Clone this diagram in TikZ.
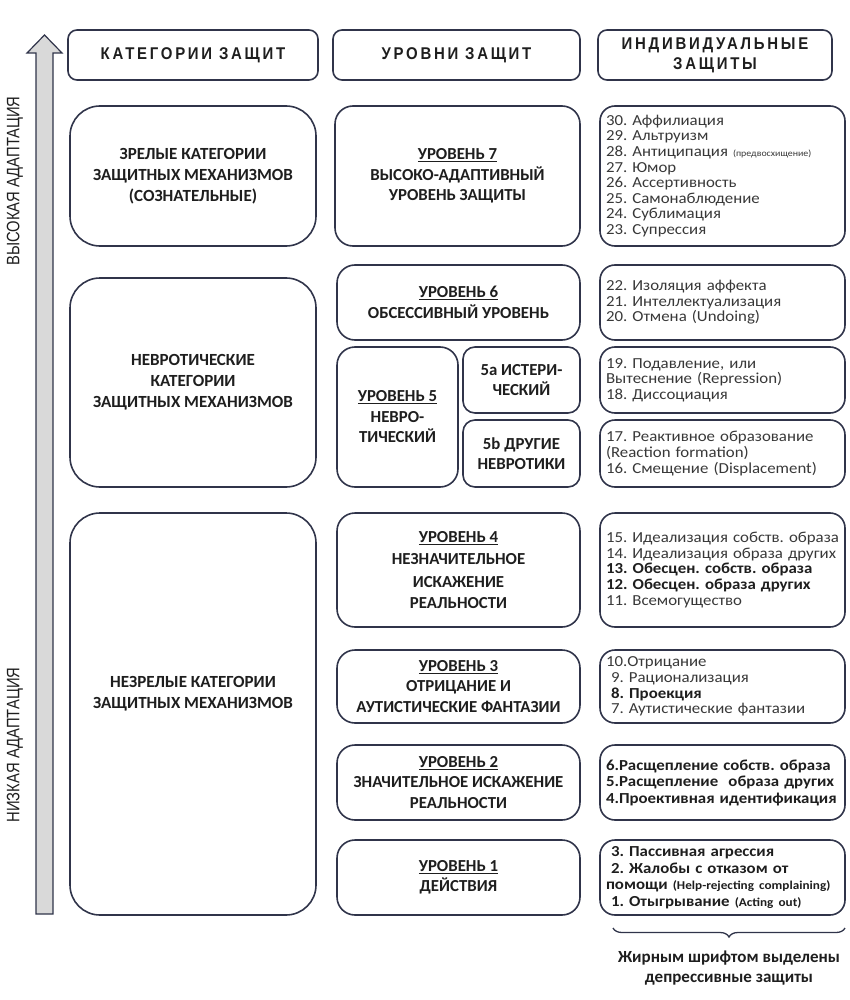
\documentclass[tikz,border=0pt]{standalone}
\usepackage{fontspec}
\setmainfont{Carlito}
\newfontfamily\listfamily[FakeStretch=1.1]{Carlito}
\newfontfamily\narrowfont[FakeStretch=0.82]{Liberation Sans}
\newfontfamily\headfont[FakeStretch=0.88,LetterSpace=16]{Liberation Sans}
\usepackage{tikz}
\usetikzlibrary{decorations.pathreplacing}
\definecolor{edge}{HTML}{30344A}
\definecolor{shaft}{HTML}{D9D9D9}
\definecolor{ink}{HTML}{1E1E1E}
\definecolor{listgray}{HTML}{383838}
\newcommand\catfont{\fontsize{17}{21}\selectfont\bfseries}
\newcommand\lvlfont{\fontsize{16.8}{20.5}\selectfont\bfseries}
\newcommand\listfont{\listfamily\fontsize{15.3}{15.6}\selectfont}
\newcommand\boldlist{\listfamily\fontsize{15.3}{16.5}\selectfont\bfseries}
\newcommand\smallpar[1]{{\fontsize{12}{13}\selectfont#1}}
\newcommand\ind{\hspace*{5pt}}
\frenchspacing

\begin{document}
\begin{tikzpicture}[x=1pt, y=-1pt, text=ink,
  hdr/.style={draw=edge, line width=1.6pt, rounded corners=9pt, minimum height=50pt,
    align=center, font=\headfont\bfseries\fontsize{17}{20}\selectfont},
  catbox/.style={draw=edge, line width=1.6pt, rounded corners=30pt, minimum width=246pt,
    align=center, font=\catfont},
  lvlbox/.style={draw=edge, line width=1.6pt, rounded corners=18pt, minimum width=243pt,
    align=center, font=\lvlfont},
  listbox/.style={draw=edge, line width=1.6pt, rounded corners=15pt, inner xsep=6pt,
    text width=233pt, align=left, font=\listfont, text=listgray}]
  \useasboundingbox (0,0) rectangle (850,1000);

  % adaptation arrow
  \draw[edge, fill=shaft, line width=1.2pt] (36,914) -- (36,53) -- (27,53) -- (44.5,35)
    -- (62,53) -- (53,53) -- (53,914) -- cycle;
  \node[rotate=90, font=\narrowfont\fontsize{18}{20}\selectfont] (high) at (15,181) {ВЫСОКАЯ АДАПТАЦИЯ};
  \node[rotate=90, font=\narrowfont\fontsize{18}{20}\selectfont] (low) at (15,745) {НИЗКАЯ АДАПТАЦИЯ};

  % headers
  \node[hdr, minimum width=250pt] (hcat) at (193,55) {КАТЕГОРИИ ЗАЩИТ};
  \node[hdr, minimum width=247pt] (hlvl) at (456.5,55) {УРОВНИ ЗАЩИТ};
  \node[hdr, minimum width=234pt] (hind) at (715,55) {ИНДИВИДУАЛЬНЫЕ\\ЗАЩИТЫ};

  % categories
  \node[catbox, minimum height=140pt] (mature) at (193,176)
    {ЗРЕЛЫЕ КАТЕГОРИИ\\ЗАЩИТНЫХ МЕХАНИЗМОВ\\(СОЗНАТЕЛЬНЫЕ)};
  \node[catbox, minimum height=209pt] (neurotic) at (193,382.5)
    {НЕВРОТИЧЕСКИЕ\\КАТЕГОРИИ\\ЗАЩИТНЫХ МЕХАНИЗМОВ};
  \node[catbox, minimum height=402pt] (immature) at (193,714)
    {НЕЗРЕЛЫЕ КАТЕГОРИИ\\ЗАЩИТНЫХ МЕХАНИЗМОВ\\[22pt]};

  % levels
  \node[lvlbox, minimum width=245pt, minimum height=140pt] (lvl7) at (457.5,176)
    {\underline{УРОВЕНЬ 7}\\ВЫСОКО-АДАПТИВНЫЙ\\УРОВЕНЬ ЗАЩИТЫ};
  \node[lvlbox, minimum height=75pt] (lvl6) at (458.5,302.5)
    {\underline{УРОВЕНЬ 6}\\ОБСЕССИВНЫЙ УРОВЕНЬ};
  \node[lvlbox, minimum width=121pt, minimum height=140pt] (lvl5) at (397.5,417)
    {\underline{УРОВЕНЬ 5}\\НЕВРО-\\ТИЧЕСКИЙ};
  \node[lvlbox, rounded corners=12pt, minimum width=117pt, minimum height=66pt] (lvl5a) at (521.5,380)
    {5a ИСТЕРИ-\\ЧЕСКИЙ};
  \node[lvlbox, rounded corners=12pt, minimum width=117pt, minimum height=67pt] (lvl5b) at (521.5,453.5)
    {5b ДРУГИЕ\\НЕВРОТИКИ};
  \node[lvlbox, minimum height=114pt] (lvl4) at (458.5,570)
    {\underline{УРОВЕНЬ 4}\\[2pt]НЕЗНАЧИТЕЛЬНОЕ\\[2pt]ИСКАЖЕНИЕ\\[1pt]РЕАЛЬНОСТИ};
  \node[lvlbox, minimum height=73pt] (lvl3) at (458.5,686.5)
    {\underline{УРОВЕНЬ 3}\\ОТРИЦАНИЕ И\\АУТИСТИЧЕСКИЕ ФАНТАЗИИ};
  \node[lvlbox, minimum height=75pt] (lvl2) at (458.5,782.5)
    {\underline{УРОВЕНЬ 2}\\ЗНАЧИТЕЛЬНОЕ ИСКАЖЕНИЕ\\РЕАЛЬНОСТИ};
  \node[lvlbox, minimum height=75pt] (lvl1) at (458.5,877.5)
    {\underline{УРОВЕНЬ 1}\\ДЕЙСТВИЯ};

  % individual defences
  \node[listbox, minimum height=140pt] (def30) at (722.5,176)
    {30. Аффилиация\\29. Альтруизм\\28. Антиципация {\fontsize{9}{10}\selectfont(предвосхищение)}\\27. Юмор\\
     26. Ассертивность\\25. Самонаблюдение\\24. Сублимация\\23. Супрессия};
  \node[listbox, minimum height=75pt] (def22) at (722.5,302.5)
    {22. Изоляция аффекта\\21. Интеллектуализация\\20. Отмена (Undoing)};
  \node[listbox, minimum height=66pt] (def19) at (722.5,380)
    {19. Подавление, или\\Вытеснение (Repression)\\18. Диссоциация};
  \node[listbox, minimum height=67pt] (def17) at (722.5,453.5)
    {17. Реактивное образование\\(Reaction formation)\\16. Смещение (Displacement)};
  \node[listbox, minimum height=114pt] (def15) at (722.5,570)
    {15. Идеализация собств. образа\\14. Идеализация образа других\\
     {\color{ink}\bfseries 13. Обесцен. собств. образа}\\{\color{ink}\bfseries 12. Обесцен. образа других}\\
     11. Всемогущество\\[6pt]};
  \node[listbox, minimum height=73pt] (def10) at (722.5,686.5)
    {10.Отрицание\\\ind 9. Рационализация\\\ind{\color{ink}\bfseries 8. Проекция}\\\ind 7. Аутистические фантазии};
  \node[listbox, minimum height=75pt, text=ink, font=\boldlist] (def6) at (722.5,782.5)
    {6.Расщепление собств. образа\\5.Расщепление\ \ образа других\\4.Проективная идентификация};
  \node[listbox, minimum height=75pt, text=ink, font=\boldlist] (def3) at (722.5,877.5)
    {\ind 3. Пассивная агрессия\\\ind 2. Жалобы с отказом от\\
     \mbox{помощи \smallpar{(Help-rejecting complaining)}}\\\ind 1. Отыгрывание \smallpar{(Acting out)}};

  % note on bold items
  \coordinate (bracel) at (613,928);
  \coordinate (bracer) at (845,928);
  \draw[edge, line width=1.3pt, decorate, decoration={brace, mirror, amplitude=9pt}] (bracel) -- (bracer);
  \node[font=\fontsize{17}{20}\selectfont\bfseries, align=center] (note) at (729,968)
    {Жирным шрифтом выделены\\депрессивные защиты};
\end{tikzpicture}
\end{document}
